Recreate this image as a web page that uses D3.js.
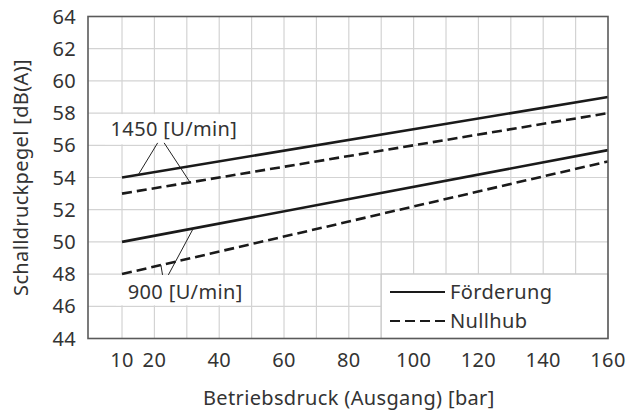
<!DOCTYPE html>
<html>
<head>
<meta charset="utf-8">
<script src="https://cdn.jsdelivr.net/npm/d3@7"></script>
<style>
  html, body { margin: 0; padding: 0; background: #fff; }
  svg text { font-family: "Noto Sans", "Open Sans", sans-serif; fill: #333; letter-spacing: 0.35px; }
</style>
</head>
<body>
<svg id="chart" width="629" height="414"></svg>
<script>
// ---- data ----
const pressure = [10, 160];                 // Betriebsdruck [bar]
const foerderung1450 = [54, 59];
const nullhub1450 = [53, 58];
const foerderung900 = [50, 55.7];
const nullhub900 = [48, 55];
const xTicks = [10, 20, 40, 60, 80, 100, 120, 140, 160];
const xGrid = [10, 20, 30, 40, 50, 60, 70, 80, 90, 100, 110, 120, 130, 140, 150];
const yTicks = [44, 46, 48, 50, 52, 54, 56, 58, 60, 62, 64];
const speedLabels = ["1450 [U/min]", "900 [U/min]"];
const legendLabels = ["Förderung", "Nullhub"];
const xTitle = "Betriebsdruck (Ausgang) [bar]";
const yTitle = "Schalldruckpegel [dB(A)]";

// ---- layout ----
const svg = d3.select("#chart");
const x = d3.scaleLinear().domain([-0.5, 160]).range([88, 608]);
const y = d3.scaleLinear().domain([44, 64]).range([338.5, 16.5]);
const gridColor = "#d3d3d3";
const lineColor = "#1a1a1a";
const fs = 20;

// grid
svg.append("g").selectAll("line.v").data(xGrid).join("line")
  .attr("x1", d => x(d)).attr("x2", d => x(d))
  .attr("y1", y(64)).attr("y2", y(44))
  .attr("stroke", gridColor).attr("stroke-width", 1.2);
svg.append("g").selectAll("line.h").data(yTicks.slice(1, -1)).join("line")
  .attr("x1", x(-0.5)).attr("x2", x(160))
  .attr("y1", d => y(d)).attr("y2", d => y(d))
  .attr("stroke", gridColor).attr("stroke-width", 1.2);

// label backgrounds (white boxes between grid lines)
svg.append("rect").attr("x", 105).attr("width", 140)
  .attr("y", y(58) + 1).attr("height", y(56) - y(58) - 2).attr("fill", "#fff");
svg.append("rect").attr("x", 116).attr("width", 128)
  .attr("y", y(48) + 1).attr("height", y(46) - y(48) - 2).attr("fill", "#fff");

// series lines
const line = d3.line().x((d, i) => x(pressure[i])).y(d => y(d));
const series = [
  { v: foerderung1450, dash: null },
  { v: nullhub1450, dash: "10,5" },
  { v: foerderung900, dash: null },
  { v: nullhub900, dash: "10,5" }
];
svg.append("g").selectAll("path").data(series).join("path")
  .attr("d", d => line(d.v))
  .attr("fill", "none").attr("stroke", lineColor).attr("stroke-width", 2.6)
  .attr("stroke-dasharray", d => d.dash);

// value on a series at pressure p
function at(vals, p) {
  return vals[0] + (vals[1] - vals[0]) * (p - pressure[0]) / (pressure[1] - pressure[0]);
}

// leader lines
const leaders = [
  { fx: 21, fy: 56.15, tx: 15, ser: foerderung1450 },
  { fx: 23, fy: 56.15, tx: 31, ser: nullhub1450 },
  { fx: 22.5, fy: 47.95, tx: 22, ser: nullhub900 },
  { fx: 24.3, fy: 47.95, tx: 32, ser: foerderung900 }
];
svg.append("g").selectAll("line").data(leaders).join("line")
  .attr("x1", d => x(d.fx)).attr("y1", d => y(d.fy))
  .attr("x2", d => x(d.tx)).attr("y2", d => y(at(d.ser, d.tx)))
  .attr("stroke", "#222").attr("stroke-width", 1);

// speed labels
svg.append("text").attr("x", x(26)).attr("y", y(56.55))
  .attr("text-anchor", "middle").attr("font-size", fs).text(speedLabels[0]);
svg.append("text").attr("x", x(29.5)).attr("y", y(46.45))
  .attr("text-anchor", "middle").attr("font-size", fs).text(speedLabels[1]);

// legend box
svg.append("rect").attr("x", x(90)).attr("y", y(48))
  .attr("width", x(160) - x(90)).attr("height", y(44) - y(48))
  .attr("fill", "#fff").attr("stroke", "#c8c8c8").attr("stroke-width", 1.2);
const legend = svg.append("g");
[null, "10,5"].forEach((dash, i) => {
  const ly = 292 + i * 29;
  legend.append("line").attr("x1", 390).attr("x2", 445).attr("y1", ly).attr("y2", ly)
    .attr("stroke", lineColor).attr("stroke-width", 2.2).attr("stroke-dasharray", dash);
  legend.append("text").attr("x", 450).attr("y", ly + 7)
    .attr("font-size", fs).text(legendLabels[i]);
});

// frame
svg.append("rect").attr("x", x(-0.5)).attr("y", y(64))
  .attr("width", x(160) - x(-0.5)).attr("height", y(44) - y(64))
  .attr("fill", "none").attr("stroke", "#5a5a5a").attr("stroke-width", 1.6);

// axes tick labels
svg.append("g").selectAll("text").data(yTicks).join("text")
  .attr("x", 76).attr("y", d => y(d)).attr("dy", "0.35em")
  .attr("text-anchor", "end").attr("font-size", fs).text(d => d);
svg.append("g").selectAll("text").data(xTicks).join("text")
  .attr("x", d => x(d)).attr("y", 367)
  .attr("text-anchor", "middle").attr("font-size", fs).text(d => d);

// titles
svg.append("text").attr("x", x(80)).attr("y", 405)
  .attr("text-anchor", "middle").attr("font-size", fs).text(xTitle);
svg.append("text").attr("transform", `translate(28,${y(54)}) rotate(-90)`)
  .attr("text-anchor", "middle").attr("font-size", fs).text(yTitle);
</script>
</body>
</html>
